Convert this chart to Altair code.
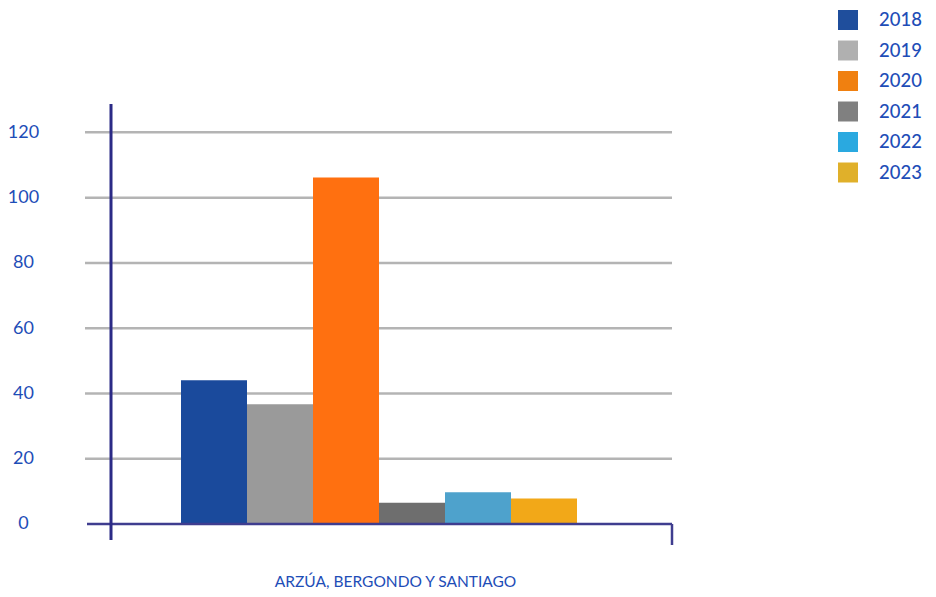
import altair as alt
import pandas as pd

years = ["2018", "2019", "2020", "2021", "2022", "2023"]
values = [44, 36.7, 106.2, 6.5, 9.7, 7.8]
bar_colors = ["#1a4a9c", "#9a9a9a", "#ff7010", "#6e6e6e", "#4ea2cc", "#f2a818"]
legend_colors = ["#1f4e9c", "#b0b0b0", "#f08010", "#808080", "#2aa9e0", "#e0b02a"]
y_ticks = [0, 20, 40, 60, 80, 100, 120]
grid_values = [20, 40, 60, 80, 100, 120]
x_title = "ARZÚA, BERGONDO Y SANTIAGO"

BLUE = "#1e4db7"
AXIS = "#2b2a86"
FONT = "Lato"

df = pd.DataFrame({"year": years, "value": values})
grid_df = pd.DataFrame({"value": grid_values})
zero_df = pd.DataFrame({"value": [0]})

yscale = alt.Scale(domain=[-8.9, 129.0], nice=False, zero=False)
yaxis = alt.Axis(
    values=y_ticks, grid=False, ticks=False, domain=False, title=None,
    labelFont=FONT, labelFontSize=18, labelColor=BLUE,
    labelAlign="center", labelPadding=50,
)

def Y():
    return alt.Y("value:Q", scale=yscale, axis=yaxis)

grid = alt.Chart(grid_df).mark_rule(color="#b4b4b4", strokeWidth=2.5).encode(
    y=Y(),
    x=alt.value(12),
    x2=alt.value(599),
)

bars = alt.Chart(df).mark_bar(size=66).encode(
    x=alt.X(
        "year:N",
        sort=years,
        scale=alt.Scale(range=[108, 504], paddingInner=0, paddingOuter=0),
        axis=alt.Axis(
            labels=False, ticks=False, domain=False, title=x_title,
            titleFont=FONT, titleFontSize=15.5, titleFontWeight="normal",
            titleColor=BLUE, titleX=322, titleY=28, titleBaseline="middle",
        ),
    ),
    y=Y(),
    y2=alt.datum(0),
    color=alt.Color("year:N", scale=alt.Scale(domain=years, range=bar_colors), legend=None),
)

legend_layer = alt.Chart(df).transform_filter("false").mark_bar().encode(
    color=alt.Color(
        "year:N",
        scale=alt.Scale(domain=years, range=legend_colors),
        legend=alt.Legend(
            title=None, orient="none", legendX=765, legendY=-93,
            symbolType="square", symbolSize=400, symbolStrokeWidth=0,
            labelFont=FONT, labelFontSize=18.5, labelColor=BLUE, labelFontWeight=500,
            labelOffset=21, rowPadding=10.5,
        ),
    ),
)

yaxis_line = alt.Chart(zero_df).mark_rule(color=AXIS, strokeWidth=3).encode(
    x=alt.value(38), y=alt.value(1), y2=alt.value(437)
)

xaxis_line = alt.Chart(zero_df).mark_rule(color="#3f3d8f", strokeWidth=2.5).encode(
    y=Y(),
    x=alt.value(14),
    x2=alt.value(599),
)

xaxis_end = alt.Chart(zero_df).mark_rule(color="#3f3d8f", strokeWidth=2.5).encode(
    y=Y(),
    y2=alt.value(442),
    x=alt.value(599),
)

chart = alt.layer(grid, bars, legend_layer, xaxis_line, xaxis_end, yaxis_line).resolve_scale(
    color="independent"
).properties(
    width=610,
    height=450,
    autosize=alt.AutoSizeParams(type="none"),
    padding={"left": 65, "top": 95, "right": 245, "bottom": 36},
).configure_view(fill="#fbfbfb", stroke=None)

chart.save("out.html", embed_options={"renderer": "svg", "actions": False})
